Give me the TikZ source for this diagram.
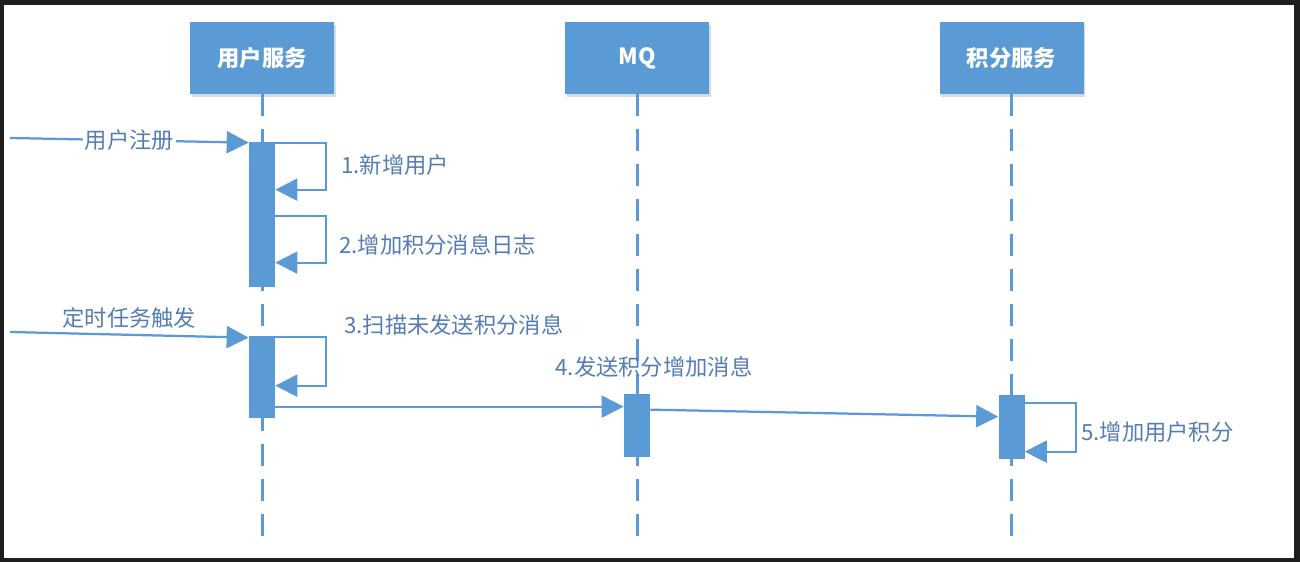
\documentclass[tikz,border=0pt]{standalone}
\usepackage{fontspec}
\setmainfont{Noto Sans CJK SC}
\usepackage{tikz}
\usetikzlibrary{calc,positioning,arrows.meta,shadows}
\usepackage{xcolor}
\definecolor{myblue}{RGB}{91,155,213}
\definecolor{mytext}{RGB}{85,125,180}
\definecolor{myframe}{RGB}{30,30,30}

\begin{document}
\begin{tikzpicture}[
  font=\fontsize{12.7}{15}\selectfont,
  obj/.style={fill=myblue, minimum width=2.88cm, minimum height=1.44cm, text=white,
    font=\fontsize{12.7}{15}\selectfont\bfseries,
    drop shadow={shadow xshift=0.03cm, shadow yshift=-0.06cm, opacity=0.3, fill=myblue!50!gray}},
  life/.style={myblue, line width=0.06cm, dash pattern=on 0.44cm off 0.26cm},
  bar/.style={fill=myblue, minimum width=0.52cm, inner sep=0pt},
  msg/.style={myblue, line width=0.045cm, -{Triangle[length=0.44cm,width=0.44cm]}},
  lbl/.style={text=mytext, inner sep=1pt}
]
  \useasboundingbox (0,0) rectangle (26,-11.24);
  \fill[myframe] (0,0) rectangle (26,-11.24);
  \fill[white] (0.07,-0.1) rectangle (25.88,-11.16);

  % Objects
  \node[obj] (user) at (5.24,-1.16) {用户服务};
  \node[obj] (mq) at (12.74,-1.16) {MQ};
  \node[obj] (score) at (20.23,-1.16) {积分服务};

  % Lifelines
  \coordinate (userEnd) at (5.24,-10.9);
  \coordinate (mqEnd) at (12.74,-10.9);
  \coordinate (scoreEnd) at (20.23,-10.9);
  \draw[life] (user.south) -- (userEnd);
  \draw[life] (mq.south) -- (mqEnd);
  \draw[life] (score.south) -- (scoreEnd);

  % Activation bars
  \node[bar, minimum height=2.9cm] (act1) at (5.24,-4.29) {};
  \node[bar, minimum height=1.64cm] (act2) at (5.24,-7.54) {};
  \node[bar, minimum height=1.26cm] (act3) at (12.74,-8.51) {};
  \node[bar, minimum height=1.28cm] (act4) at (20.23,-8.54) {};

  % Incoming triggers
  \coordinate (regStart) at (0.2,-2.76);
  \coordinate (cronStart) at (0.2,-6.64);
  \draw[msg] (regStart) -- ($(act1.north west)+(0,-0.02)$) node[lbl, midway, fill=white] {用户注册};
  \draw[msg] (cronStart) -- ($(act2.north west)+(0,-0.04)$) node[lbl, midway, above=0.08cm] {定时任务触发};

  % Self calls
  \draw[msg] ($(act1.north east)+(0,-0.02)$) -- ++(1.02,0) |- ($(act1.north east)+(0,-0.96)$);
  \draw[msg] ($(act1.north east)+(0,-1.48)$) -- ++(1.02,0) |- ($(act1.north east)+(0,-2.42)$);
  \draw[msg] ($(act2.north east)+(0,-0.02)$) -- ++(1.02,0) |- ($(act2.north east)+(0,-1.0)$);
  \draw[msg] ($(act4.north east)+(0,-0.16)$) -- ++(1.02,0) |- ($(act4.north east)+(0,-1.14)$);
  \node[lbl, anchor=west] (l1) at (6.78,-3.3) {1.新增用户};
  \node[lbl, anchor=west] (l2) at (6.74,-4.9) {2.增加积分消息日志};
  \node[lbl, anchor=west] (l3) at (6.84,-6.5) {3.扫描未发送积分消息};
  \node[lbl, anchor=west] (l5) at (21.58,-8.64) {5.增加用户积分};

  % Messages between services
  \draw[msg] ($(act2.north east)+(0,-1.42)$) -- ($(act3.north west)+(0,-0.26)$);
  \draw[msg] ($(act3.north east)+(0,-0.32)$) -- ($(act4.north west)+(0,-0.44)$);
  \node[lbl] (l4) at (13.08,-7.34) {4.发送积分增加消息};
\end{tikzpicture}
\end{document}
